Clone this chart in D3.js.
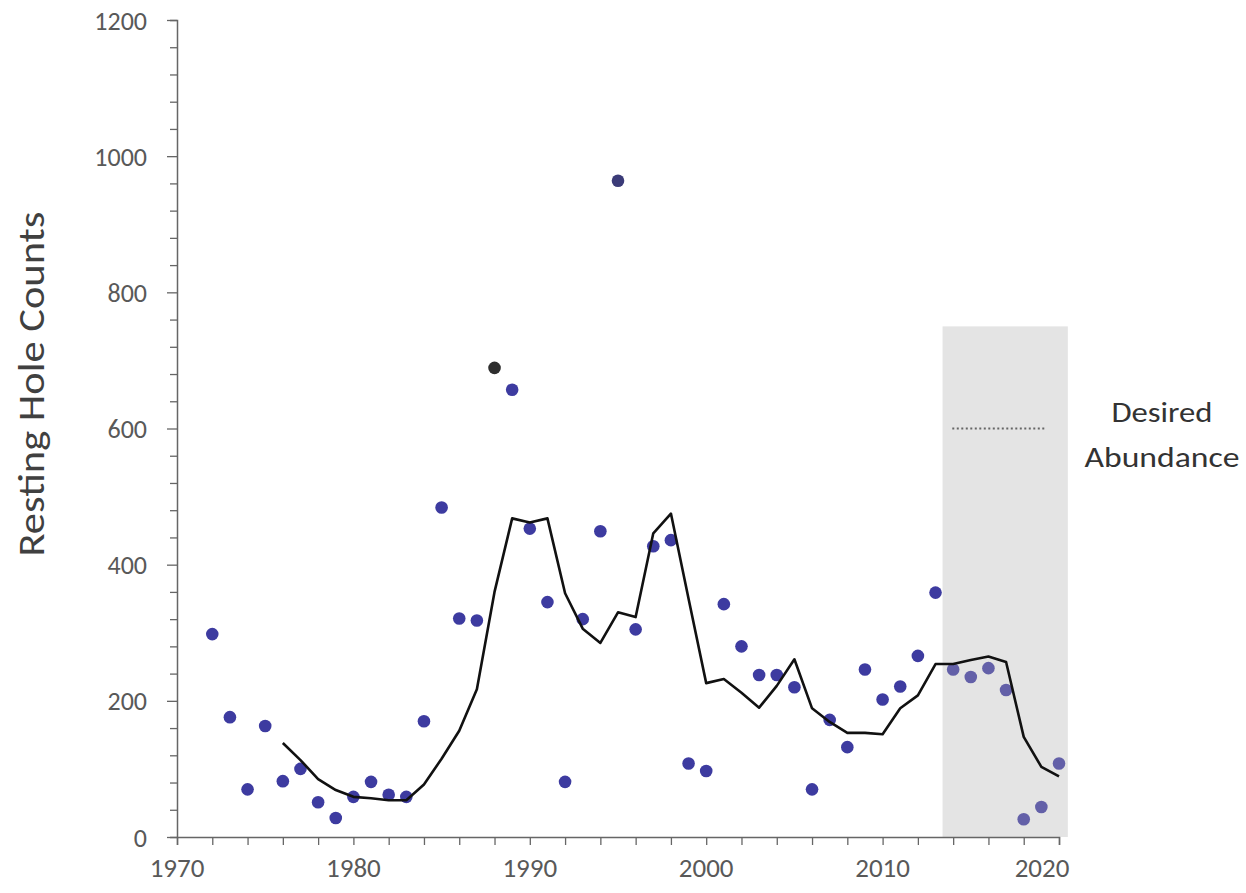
<!DOCTYPE html>
<html>
<head>
<meta charset="utf-8">
<script src="https://cdn.jsdelivr.net/npm/d3@7"></script>
<style>
  body { margin: 0; background: #fff; }
  text { font-family: Carlito, Lato, "Open Sans", sans-serif; }
</style>
</head>
<body>
<script>
// annual resting hole counts
var years = [1972, 1973, 1974, 1975, 1976, 1977, 1978, 1979, 1980, 1981, 1982, 1983, 1984, 1985,
             1986, 1987, 1988, 1989, 1990, 1991, 1992, 1993, 1994, 1995, 1996, 1997, 1998, 1999,
             2000, 2001, 2002, 2003, 2004, 2005, 2006, 2007, 2008, 2009, 2010, 2011, 2012, 2013,
             2014, 2015, 2016, 2017, 2018, 2019, 2020];
var counts = [298, 176, 70, 163, 82, 100, 51, 28, 59, 81, 62, 59, 170, 484,
              321, 318, 689, 657, 453, 345, 81, 320, 449, 964, 305, 427, 436, 108,
              97, 342, 280, 238, 238, 220, 70, 172, 132, 246, 202, 221, 266, 359,
              246, 235, 248, 216, 26, 44, 108];

// running average line
var avgYears = [1976, 1977, 1978, 1979, 1980, 1981, 1982, 1983, 1984, 1985, 1986, 1987, 1988,
                1989, 1990, 1991, 1992, 1993, 1994, 1995, 1996, 1997, 1998, 1999, 2000, 2001,
                2002, 2003, 2004, 2005, 2006, 2007, 2008, 2009, 2010, 2011, 2012, 2013, 2014,
                2015, 2016, 2017, 2018, 2019, 2020];
var avgCounts = [138, 113, 85, 69, 59, 57, 54, 54, 77, 115, 156, 217, 360,
                 468, 462, 468, 358, 306, 285, 330, 323, 446, 475, 350, 226, 232,
                 212, 190, 222, 261, 189, 169, 153, 153, 151, 189, 208, 254, 254,
                 260, 265, 257, 147, 103, 89];

var yTicks = [0, 200, 400, 600, 800, 1000, 1200];
var xTicks = [1970, 1980, 1990, 2000, 2010, 2020];
var shade = [2013.4, 2020.5, 750];       // x start, x end, top value
var desired = [2013.95, 2019.2, 600];    // dotted line: x start, x end, value
var legendLines = ["Desired", "Abundance"];

var svg = d3.select("body").append("svg")
    .attr("width", 1246)
    .attr("height", 893);

var x = d3.scaleLinear().domain([1970, 2020]).range([177, 1059]);
var y = d3.scaleLinear().domain([0, 1200]).range([837, 20]);

// shaded period
svg.append("rect")
    .attr("x", x(shade[0]))
    .attr("y", y(shade[2]))
    .attr("width", x(shade[1]) - x(shade[0]))
    .attr("height", y(0) - y(shade[2]))
    .attr("fill", "#e4e4e4");

svg.append("line")
    .attr("x1", x(desired[0]))
    .attr("x2", x(desired[1]))
    .attr("y1", y(desired[2]))
    .attr("y2", y(desired[2]))
    .attr("stroke", "#666")
    .attr("stroke-width", 2)
    .attr("stroke-dasharray", "2,2.5");

// axes
var yAxis = svg.append("g")
    .attr("transform", "translate(" + x(1970) + ",0)")
    .call(d3.axisLeft(y).tickValues(d3.range(0, 1201, 40)).tickSize(7).tickFormat(""));
yAxis.selectAll(".tick line")
    .attr("x2", function(d) { return d % 200 == 0 ? -10 : -7; })
    .attr("stroke", "#666").attr("stroke-width", 1.3);
yAxis.select(".domain").attr("stroke", "#666").attr("stroke-width", 1.5);

svg.append("g").selectAll("text")
    .data(yTicks)
    .enter().append("text")
    .attr("x", 147)
    .attr("y", function(d) { return y(d) + 9.5; })
    .attr("text-anchor", "end")
    .attr("font-size", 26)
    .attr("fill", "#595959")
    .text(function(d) { return d; });

var xAxis = svg.append("g")
    .attr("transform", "translate(0," + y(0) + ")")
    .call(d3.axisBottom(x).tickValues(d3.range(1970, 2021, 2)).tickSize(8).tickFormat(""));
xAxis.selectAll("line").attr("stroke", "#666").attr("stroke-width", 1.3);
xAxis.select(".domain").attr("stroke", "#666").attr("stroke-width", 1.5);

svg.append("g").selectAll("text")
    .data(xTicks)
    .enter().append("text")
    .attr("x", function(d) { return x(d) - (d == 2020 ? 17 : 0); })
    .attr("y", 877)
    .attr("text-anchor", "middle")
    .attr("font-size", 27)
    .attr("fill", "#595959")
    .text(function(d) { return d; });

// points
svg.append("g").selectAll("circle")
    .data(years)
    .enter().append("circle")
    .attr("cx", function(d) { return x(d); })
    .attr("cy", function(d, i) { return y(counts[i]); })
    .attr("r", 6.3)
    .attr("fill", function(d) {
        if (d == 1988) return "#2e2e2e";
        if (d == 1995) return "#3b3b78";
        if (d >= 2014) return "#6360a8";
        return "#3d3ba0";
    });

// average line
var line = d3.line()
    .x(function(d) { return x(d); })
    .y(function(d, i) { return y(avgCounts[i]); });

svg.append("path")
    .attr("d", line(avgYears))
    .attr("fill", "none")
    .attr("stroke", "#111")
    .attr("stroke-width", 2.6)
    .attr("stroke-linejoin", "round");

// labels
svg.append("text")
    .attr("transform", "translate(44,384) rotate(-90)")
    .attr("text-anchor", "middle")
    .attr("font-size", 36)
    .attr("textLength", 345)
    .attr("lengthAdjust", "spacingAndGlyphs")
    .attr("fill", "#404040")
    .text("Resting Hole Counts");

var legendWidths = [101, 155];
svg.append("g").selectAll("text")
    .data(legendLines)
    .enter().append("text")
    .attr("x", function(d, i) { return 1162 - legendWidths[i] / 2; })
    .attr("y", function(d, i) { return 422 + i * 45; })
    .attr("font-size", 28)
    .attr("textLength", function(d, i) { return legendWidths[i]; })
    .attr("lengthAdjust", "spacingAndGlyphs")
    .attr("fill", "#333")
    .text(function(d) { return d; });
</script>
</body>
</html>
